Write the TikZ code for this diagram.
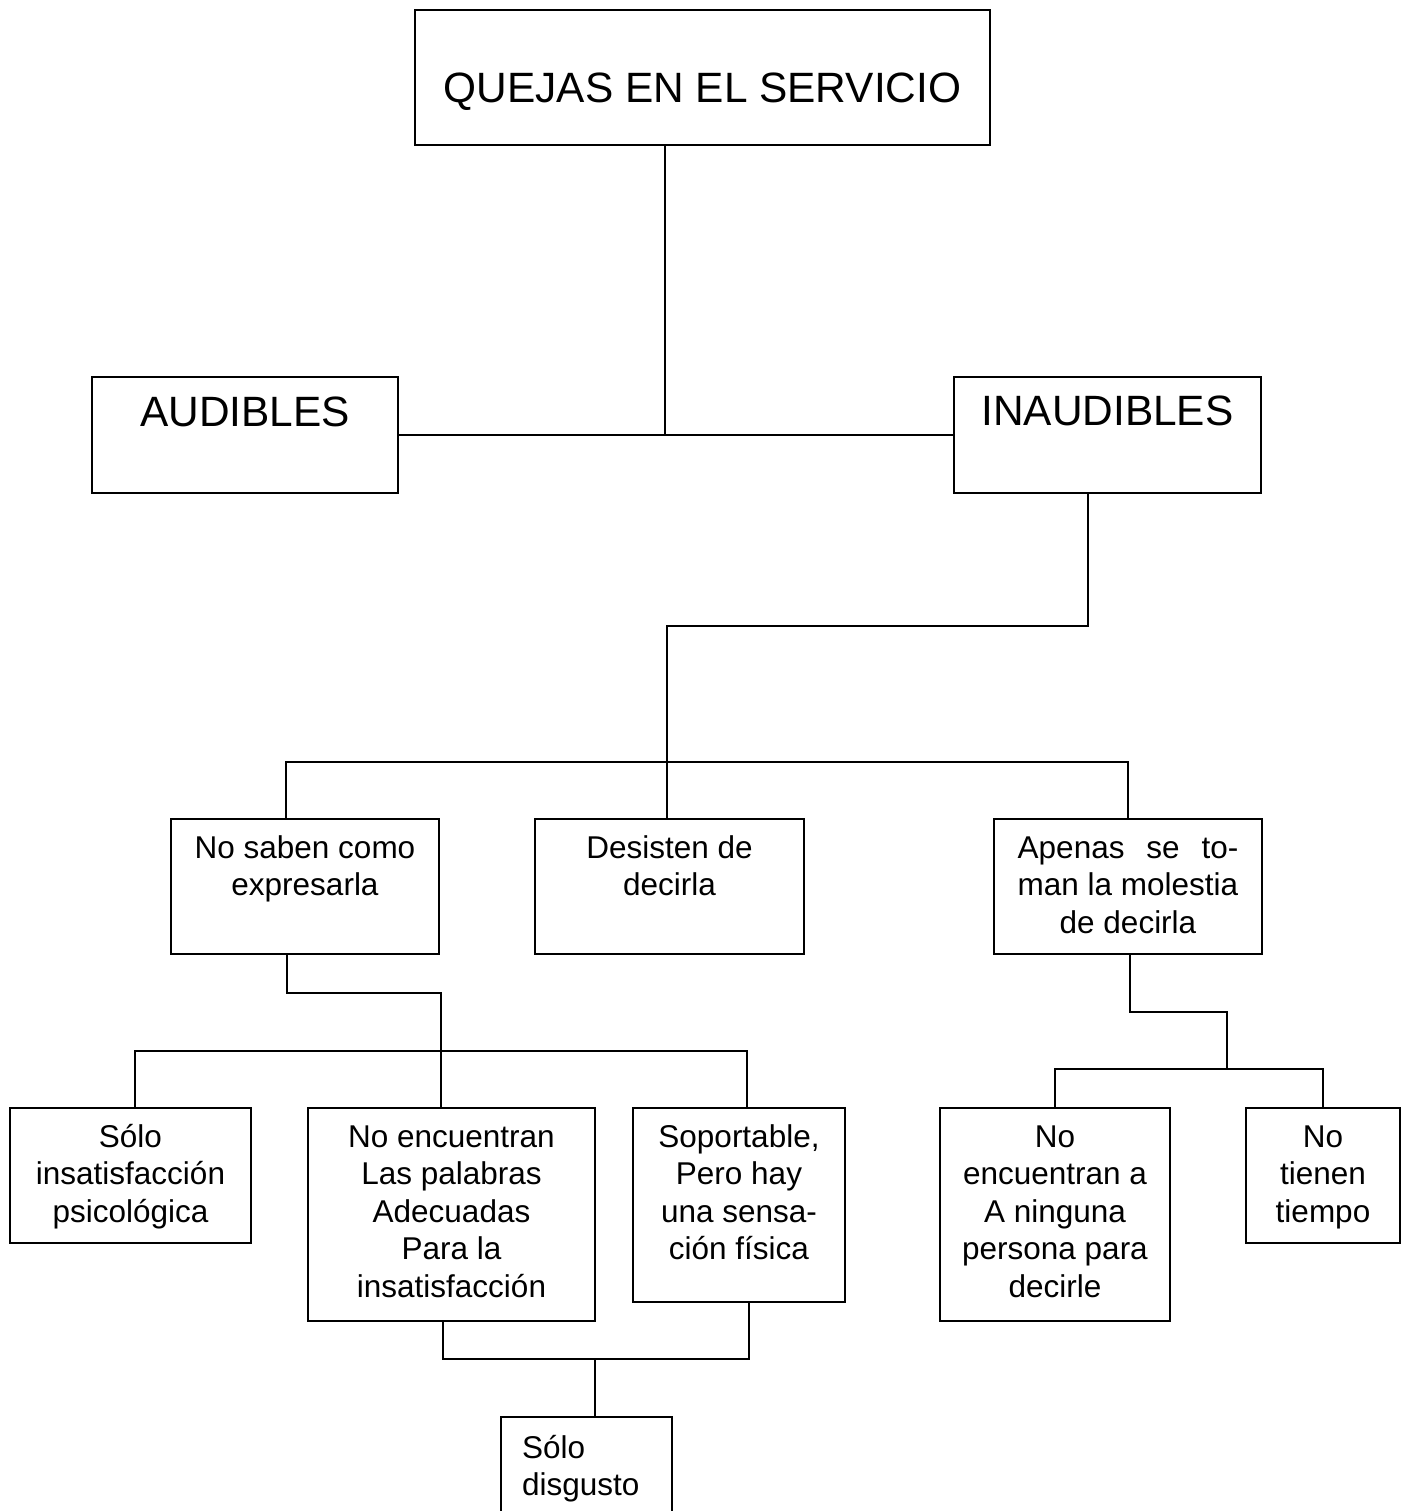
\documentclass[tikz,border=0pt]{standalone}
\usepackage{fontspec}
\usepackage{calc}
\setmainfont{Liberation Sans}
\newcommand\fsmall{\fontsize{15.75}{18.75}\selectfont}
\newcommand\fbig{\fontsize{21.2}{25}\selectfont}
% #1 width px, #2 height px, #3 first baseline below top px, #4 text
\newcommand\boxtext[4]{\parbox[c][\dimexpr #2pt/2\relax][t]{\dimexpr #1pt/2\relax}{\vspace*{\dimexpr (#3pt-32pt)/2\relax}\centering\rule{0pt}{16pt}#4\par}}
\newcommand\boxtextl[5]{\parbox[c][\dimexpr #2pt/2\relax][t]{\dimexpr #1pt/2\relax}{\vspace*{\dimexpr (#3pt-32pt)/2\relax}\raggedright\leftskip=\dimexpr #4pt/2\relax\rule{0pt}{16pt}#5\par}}
\tikzset{
  bx/.style={draw, line width=1.3pt, rectangle, inner sep=0pt, outer sep=0pt, anchor=north west, font=\fsmall},
  big/.style={bx, font=\fbig},
  conn/.style={line width=1.3pt, line join=miter}
}
\begin{document}
\begin{tikzpicture}[x=0.5pt,y=-0.5pt]
\useasboundingbox (0,0) rectangle (1404,1511);
\clip (0,0) rectangle (1404,1511);
\fill[white] (0,0) rectangle (1404,1511);

% boxes
\node[big] (q) at (415,10) {\boxtext{575}{135}{92}{QUEJAS EN EL SERVICIO}};
\node[big] (a) at (92,377) {\boxtext{306}{116}{49}{AUDIBLES}};
\node[big] (i) at (954,377) {\boxtext{307}{116}{48}{INAUDIBLES}};

\node[bx] (ns) at (171,819) {\boxtext{268}{135}{39}{No saben como\\expresarla}};
\node[bx] (d) at (535,819) {\boxtext{269}{135}{39}{Desisten de\\decirla}};
\node[bx] (ap) at (994,819) {\boxtext{268}{135}{39}{\makebox[\widthof{man la molestia}][s]{Apenas se to-}\\man la molestia\\de decirla}};

\node[bx] (si) at (10,1108) {\boxtext{241}{135}{39}{Sólo\\insatisfacción\\psicológica}};
\node[bx] (ne) at (308,1108) {\boxtext{287}{213}{39}{No encuentran\\Las palabras\\Adecuadas\\Para la\\insatisfacción}};
\node[bx] (sp) at (633,1108) {\boxtext{212}{194}{39}{Soportable,\\Pero hay\\una sensa-\\ción física}};
\node[bx] (nea) at (940,1108) {\boxtext{230}{213}{39}{No\\encuentran a\\A ninguna\\persona para\\decirle}};
\node[bx] (nt) at (1246,1108) {\boxtext{154}{135}{39}{No\\tienen\\tiempo}};

\node[bx] (sd) at (501,1417) {\boxtextl{171}{120}{41}{21}{Sólo\\disgusto}};

% junction coordinates
\coordinate (j1) at (665,435);
\coordinate (j2) at (1088,626);
\coordinate (j3) at (667,626);
\coordinate (h1) at (286,762);
\coordinate (k1) at (287,993);
\coordinate (k2) at (441,993);
\coordinate (h2) at (135,1051);
\coordinate (h3) at (747,1051);
\coordinate (m1) at (443,1359);
\coordinate (m2) at (749,1359);
\coordinate (m3) at (595,1359);
\coordinate (p1) at (1130,1012);
\coordinate (p2) at (1227,1012);
\coordinate (p3) at (1227,1069);

% connectors
\draw[conn] (j1 |- q.south) -- (j1);
\draw[conn] (a.east) -- (a.east -| i.west);
\draw[conn] (j2 |- i.south) -- (j2) -- (j3) -- (j3 |- d.north);
\draw[conn] (h1 |- ns.north) -- (h1) -- (ap.north |- h1) -- (ap.north);
\draw[conn] (k1 |- ns.south) -- (k1) -- (k2) -- (k2 |- ne.north);
\draw[conn] (h2 |- si.north) -- (h2) -- (h3) -- (h3 |- sp.north);
\draw[conn] (m1 |- ne.south) -- (m1) -- (m2) -- (m2 |- sp.south);
\draw[conn] (m3) -- (m3 |- sd.north);
\draw[conn] (p1 |- ap.south) -- (p1) -- (p2) -- (p3);
\draw[conn] (nea.north) -- (nea.north |- p3) -- (nt.north |- p3) -- (nt.north);
\end{tikzpicture}
\end{document}
